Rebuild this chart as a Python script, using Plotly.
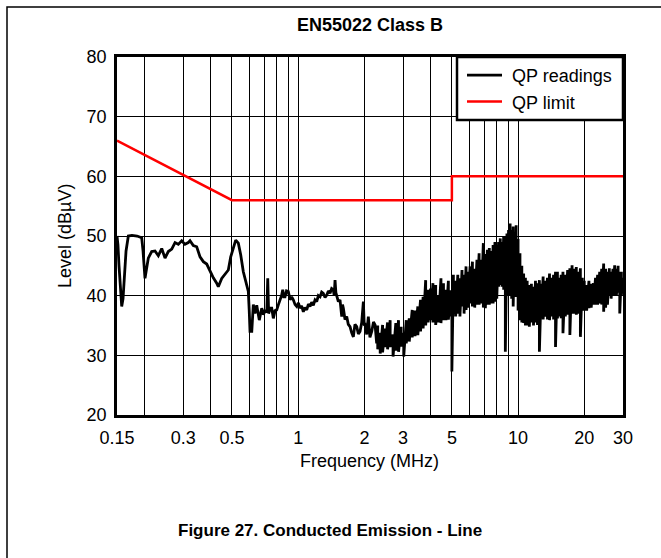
import plotly.graph_objects as go
import math

# ---------------- data ----------------
# QP readings, low-frequency part (0.15 - 2.3 MHz)
freq_lf = [0.150, 0.1515, 0.1532, 0.1556, 0.1576, 0.1598, 0.1622, 0.1649, 0.1689, 0.1755,
           0.1850, 0.1943, 0.1970, 0.2011, 0.2082, 0.2157, 0.2233, 0.2312, 0.2396, 0.2480,
           0.2567, 0.2661, 0.2754, 0.2850, 0.2953, 0.3057, 0.3165, 0.3222, 0.3335, 0.3456,
           0.3578, 0.3704, 0.3838, 0.3974, 0.4113, 0.4261, 0.4333, 0.4490, 0.4647, 0.4812,
           0.4934, 0.5070, 0.5199, 0.5343, 0.5480, 0.5630, 0.5792, 0.5933, 0.5990, 0.6039,
           0.6151, 0.6252, 0.6360, 0.6479, 0.6655, 0.6827, 0.6950, 0.7067, 0.7200, 0.7271,
           0.7340, 0.7460, 0.7581, 0.7709, 0.7850, 0.7988, 0.8130, 0.8268, 0.8400, 0.8506,
           0.8600, 0.8713, 0.8850, 0.9020, 0.9182, 0.9340, 0.9504, 0.9680, 0.9849, 1.0020,
           1.0196, 1.0370, 1.0554, 1.0740, 1.0938, 1.1130, 1.1322, 1.1520, 1.172, 1.193,
           1.214, 1.235, 1.257, 1.279, 1.301, 1.325, 1.349, 1.372, 1.396, 1.420,
           1.445, 1.458, 1.471, 1.484, 1.497, 1.523, 1.550, 1.565, 1.578, 1.591,
           1.605, 1.633, 1.662, 1.690, 1.721, 1.750, 1.782, 1.812, 1.846, 1.878,
           1.911, 1.945, 1.979, 1.997, 2.015, 2.050, 2.085, 2.120, 2.160, 2.200,
           2.237, 2.275]
level_lf = [50.0, 48.5, 45.0, 40.0, 38.2, 39.5, 43.5, 47.5, 50.0, 50.1,
            50.0, 49.7, 47.5, 42.9, 46.3, 47.4, 47.5, 46.7, 47.9, 46.3,
            47.4, 47.8, 48.9, 48.6, 49.2, 48.6, 48.9, 49.2, 48.4, 48.2,
            46.5, 45.7, 45.3, 44.0, 43.0, 42.1, 41.5, 42.9, 43.7, 44.3,
            46.5, 48.2, 49.3, 48.8, 46.8, 44.0, 42.3, 40.7, 37.5, 34.0,
            34.0, 38.5, 37.0, 38.4, 35.9, 37.9, 36.8, 37.6, 37.2, 42.9,
            37.0, 37.9, 37.9, 36.2, 37.5, 37.6, 38.5, 39.3, 40.0, 41.0,
            39.8, 39.8, 40.8, 40.7, 39.3, 39.8, 39.3, 38.5, 38.2, 38.8,
            37.9, 38.3, 37.3, 38.0, 37.6, 38.6, 38.2, 38.9, 38.4, 39.3,
            39.0, 40.0, 39.8, 40.6, 40.4, 39.7, 40.1, 40.8, 40.4, 41.2,
            41.0, 40.0, 42.6, 40.5, 40.1, 39.0, 39.3, 38.0, 36.5, 38.5,
            37.9, 36.0, 36.5, 35.2, 34.8, 33.8, 33.1, 35.2, 34.8, 33.6,
            34.0, 35.5, 39.0, 35.0, 35.1, 33.5, 36.5, 33.0, 34.0, 35.6,
            35.1, 32.0]

# QP readings, high-frequency noisy part (2.3 - 30 MHz): peak / valley of each sweep step
freq_hf = [2.30, 2.36, 2.42, 2.48, 2.55, 2.62, 2.70, 2.78, 2.86, 2.94,
           3.02, 3.10, 3.20, 3.30, 3.40, 3.50, 3.60, 3.70, 3.80, 3.90,
           4.00, 4.10, 4.22, 4.34, 4.46, 4.58, 4.70, 4.82, 4.94, 5.00,
           5.08, 5.20, 5.32, 5.44, 5.56, 5.68, 5.80, 5.92, 6.05, 6.20,
           6.35, 6.50, 6.65, 6.80, 6.95, 7.10, 7.25, 7.40, 7.55, 7.70,
           7.85, 8.00, 8.15, 8.30, 8.45, 8.60, 8.75, 8.90, 9.05, 9.20,
           9.35, 9.50, 9.65, 9.80, 10.0, 10.2, 10.4, 10.6, 10.8, 11.0,
           11.25, 11.5, 11.75, 12.0, 12.25, 12.5, 12.75, 13.0, 13.3, 13.6,
           13.9, 14.2, 14.5, 14.8, 15.1, 15.4, 15.7, 16.0, 16.4, 16.8,
           17.2, 17.6, 18.0, 18.4, 18.8, 19.2, 19.6, 20.0, 20.5, 21.0,
           21.5, 22.0, 22.5, 23.0, 23.5, 24.0, 24.5, 25.0, 25.5, 26.0,
           26.5, 27.0, 27.5, 28.0, 28.5, 29.0, 29.5, 30.0]
hi_hf = [35.0, 33.8, 35.1, 34.5, 35.5, 35.9, 33.5, 35.4, 35.9, 34.8,
         33.8, 35.9, 36.2, 37.6, 37.5, 38.2, 39.3, 39.8, 42.6, 41.0,
         41.2, 42.1, 41.8, 40.0, 42.9, 42.1, 41.0, 42.5, 40.9, 40.5,
         43.5, 42.5, 43.5, 42.9, 44.3, 43.5, 44.9, 44.0, 44.9, 45.7,
         44.5, 46.0, 47.1, 46.0, 48.8, 47.0, 47.7, 48.0, 47.5, 48.5,
         49.0, 48.5, 49.0, 49.6, 49.0, 50.0, 50.0, 50.4, 51.0, 52.1,
         51.0, 51.6, 50.5, 51.8, 49.5, 47.1, 45.0, 43.7, 43.0, 42.5,
         41.8, 42.0, 41.5, 42.5, 42.1, 42.6, 42.0, 43.2, 42.5, 43.0,
         43.7, 43.0, 43.5, 44.0, 44.0, 43.0, 43.5, 44.0, 43.5, 44.3,
         44.6, 45.1, 44.5, 44.8, 44.0, 44.6, 43.0, 42.5, 41.8, 42.5,
         42.0, 42.1, 43.0, 43.5, 44.0, 44.5, 45.4, 44.5, 44.0, 44.6,
         44.0, 44.5, 45.1, 44.5, 45.0, 44.0, 44.0, 43.0]
lo_hf = [31.0, 30.3, 30.5, 31.4, 31.0, 31.4, 29.8, 30.8, 30.6, 31.5,
         29.8, 32.0, 32.3, 33.0, 33.2, 33.4, 34.0, 34.5, 35.0, 35.5,
         35.9, 35.5, 35.1, 35.5, 35.4, 35.9, 35.9, 36.0, 36.5, 27.3,
         37.0, 36.5, 37.0, 36.5, 38.2, 37.0, 37.6, 38.0, 38.7, 38.2,
         38.0, 38.5, 38.5, 38.7, 38.0, 37.9, 38.5, 38.5, 38.7, 38.7,
         39.0, 39.5, 41.5, 41.8, 41.5, 41.0, 30.6, 40.0, 40.5, 40.0,
         39.5, 38.2, 40.0, 39.8, 37.5, 35.9, 35.5, 35.4, 35.0, 35.0,
         34.8, 35.5, 35.0, 35.5, 35.1, 30.6, 36.5, 36.0, 36.5, 36.0,
         35.9, 36.5, 36.0, 31.4, 36.2, 36.5, 36.2, 33.7, 36.5, 36.8,
         33.4, 37.0, 37.0, 36.8, 37.0, 33.1, 37.5, 37.5, 37.5, 37.9,
         38.0, 38.5, 38.5, 38.5, 38.7, 38.5, 37.3, 38.0, 38.5, 40.1,
         39.5, 40.0, 40.1, 40.0, 40.5, 37.0, 40.1, 41.0]

# EN55022 Class B QP limit
limit_freq = [0.15, 0.5, 5.0, 5.0, 30.0]
limit_level = [66.0, 56.0, 56.0, 60.0, 60.0]

x_tick_vals = [0.15, 0.3, 0.5, 1, 2, 3, 5, 10, 20, 30]
x_tick_text = ["0.15", "0.3", "0.5", "1", "2", "3", "5", "10", "20", "30"]
x_grid_vals = [0.2, 0.3, 0.4, 0.5, 0.6, 0.7, 0.8, 0.9, 1, 2, 3, 4, 5, 6, 7, 8, 9, 10, 20]
y_tick_vals = [20, 30, 40, 50, 60, 70, 80]

# ---------------- build series ----------------
qp_f = list(freq_lf)
qp_v = list(level_lf)
for f, h, l in zip(freq_hf, hi_hf, lo_hf):
    qp_f += [f, f]
    qp_v += [h, l]

FONT = "Arial, 'Liberation Sans', sans-serif"

fig = go.Figure()
fig.add_trace(go.Scatter(x=qp_f, y=qp_v, mode="lines", name="\u00a0QP readings",
                         line=dict(color="black", width=2.8)))
fig.add_trace(go.Scatter(x=limit_freq, y=limit_level, mode="lines", name="\u00a0QP limit",
                         line=dict(color="#ff0000", width=2.5)))

L, R, T, B = 117, 38, 57, 143
W, H = 661, 558
pw, ph = W - L - R, H - T - B

def px2x(px):
    return (px - L) / pw

def py2y(py):
    return (H - B - py) / ph

fig.update_layout(
    width=W, height=H,
    margin=dict(l=L, r=R, t=T, b=B, pad=0, autoexpand=False),
    paper_bgcolor="white", plot_bgcolor="white",
    font=dict(family=FONT, size=18, color="black"),
    showlegend=True,
    legend=dict(x=px2x(462), y=py2y(57), xanchor="left", yanchor="top",
                bgcolor="rgba(0,0,0,0)", borderwidth=0, itemwidth=35,
                font=dict(family=FONT, size=18, color="black"),
                tracegroupgap=0),
    xaxis=dict(type="log", range=[math.log10(0.15), math.log10(30)],
               tickmode="array", tickvals=x_tick_vals, ticktext=x_tick_text,
               showgrid=True, gridcolor="black", gridwidth=1,
               minor=dict(tickmode="array", tickvals=x_grid_vals, showgrid=True,
                          gridcolor="black", gridwidth=1, ticks=""),
               showline=True, linecolor="black", linewidth=2.5, mirror=True,
               ticks="", ticklabelstandoff=5, zeroline=False, automargin=False,
               tickfont=dict(family=FONT, size=18, color="black")),
    yaxis=dict(range=[20, 80], tickmode="array", tickvals=y_tick_vals,
               showgrid=True, gridcolor="black", gridwidth=1,
               showline=True, linecolor="black", linewidth=2.5, mirror=True,
               ticks="", ticklabelstandoff=4, zeroline=False, automargin=False,
               tickfont=dict(family=FONT, size=18, color="black")),
    shapes=[
        # outer frame of the figure (open on the right / bottom)
        dict(type="rect", xref="paper", yref="paper",
             x0=px2x(7), y0=py2y(600), x1=px2x(700), y1=py2y(7),
             line=dict(color="black", width=1.5), fillcolor="rgba(0,0,0,0)",
             layer="below"),
        # legend box
        dict(type="rect", xref="paper", yref="paper",
             x0=px2x(457), y0=py2y(120), x1=1, y1=1,
             line=dict(color="black", width=2.5), fillcolor="white",
             layer="above"),
    ],
    annotations=[
        dict(text="<b>EN55022 Class B</b>", xref="paper", yref="paper",
             x=0.5, y=py2y(25), showarrow=False, xanchor="center", yanchor="middle",
             font=dict(family=FONT, size=18, color="black")),
        dict(text="Frequency (MHz)", xref="paper", yref="paper",
             x=px2x(369), y=py2y(461), showarrow=False, xanchor="center", yanchor="middle",
             font=dict(family=FONT, size=18, color="black")),
        dict(text="Level (dBµV)", xref="paper", yref="paper",
             x=px2x(65), y=0.5, showarrow=False, textangle=-90,
             xanchor="center", yanchor="middle",
             font=dict(family=FONT, size=18, color="black")),
        dict(text="<b>Figure 27. Conducted Emission - Line</b>", xref="paper", yref="paper",
             x=px2x(330), y=py2y(530), showarrow=False, xanchor="center", yanchor="middle",
             font=dict(family=FONT, size=17, color="black")),
    ],
)

fig.write_html("out.html", config={"displayModeBar": False},
               post_script="document.body.style.margin='0px';")
